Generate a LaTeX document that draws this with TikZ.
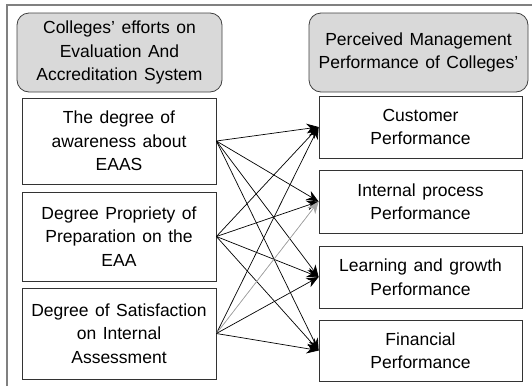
\documentclass[tikz,border=0pt]{standalone}
\usepackage{fontspec}
\setmainfont{Liberation Sans}
\usetikzlibrary{arrows.meta}
\newcommand{\diagfont}{\fontsize{17.5}{23.5}\selectfont\spaceskip=6.5pt\relax}
\begin{document}
\begin{tikzpicture}[x=1pt,y=-1pt,
  every node/.style={font=\diagfont, align=center, inner sep=0pt},
  hdr/.style={draw=black!75, fill=black!15, rounded corners=12pt, line width=0.8pt},
  lbox/.style={draw=black!80, line width=0.8pt, minimum width=194pt},
  rbox/.style={draw=black!80, line width=0.8pt, minimum width=203pt},
  conn/.style={-{Stealth[length=12pt,width=10pt]}, line width=0.7pt}]
\useasboundingbox (0,0) rectangle (532,386);
\draw[black!50, line width=1.5pt] (7,386) -- (7,5) -- (532,5);
\node[hdr, minimum width=205pt, minimum height=79pt] (lh) at (119.5,52.5) {Colleges’ efforts on\\Evaluation And\\Accreditation System};
\node[hdr, minimum width=219pt, minimum height=79pt] (rh) at (418.5,52.5) {Perceived Management\\Performance of Colleges’};
\node[lbox, minimum height=86pt] (l1) at (119,141) {The degree of\\awareness about\\EAAS};
\node[lbox, minimum height=89pt] (l2) at (119,236.5) {Degree Propriety of\\Preparation on the\\EAA};
\node[lbox, minimum height=91pt] (l3) at (119,333.5) {Degree of Satisfaction\\on Internal\\Assessment};
\node[rbox, minimum height=62pt] (r1) at (420.5,127) {Customer\\Performance};
\node[rbox, minimum height=63pt] (r2) at (420.5,201.5) {Internal process\\Performance};
\node[rbox, minimum height=62pt] (r3) at (420.5,277) {Learning and growth\\Performance};
\node[rbox, minimum height=61pt] (r4) at (420.5,350.5) {Financial\\Performance};
\foreach \l in {l1,l2}{
  \foreach \r in {r1,r2,r3,r4}{
    \draw[conn] (\l.east) -- (\r.west);
  }
}
\draw[conn] (l3.east) -- (r1.west);
\draw[conn, draw=black!35, fill=black] (l3.east) -- (r2.west);
\draw[conn] (l3.east) -- (r3.west);
\draw[conn] (l3.east) -- (r4.west);
\end{tikzpicture}
\end{document}
